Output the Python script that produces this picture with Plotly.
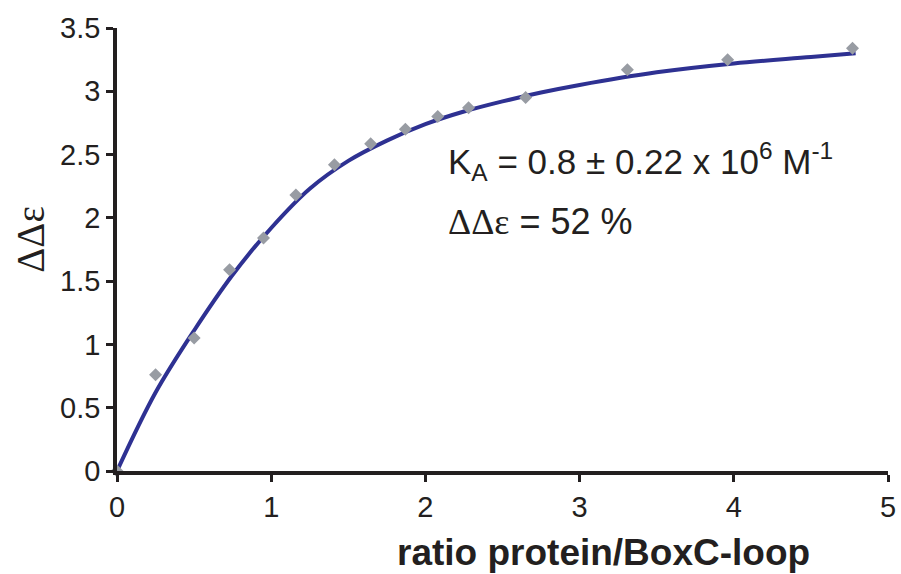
import plotly.graph_objects as go

# Measured data points (grey diamonds)
ratio = [0.0, 0.25, 0.50, 0.73, 0.95, 1.16, 1.41, 1.645, 1.87, 2.08, 2.28, 2.65, 3.31, 3.96, 4.77]
delta_eps = [0.0, 0.76, 1.05, 1.59, 1.84, 2.18, 2.42, 2.585, 2.70, 2.80, 2.87, 2.95, 3.17, 3.25, 3.34]

# Fitted curve
fit_x = [0.0, 0.25, 0.5, 0.75, 1.0, 1.25, 1.5, 1.75, 2.0, 2.25, 2.5, 2.75, 3.0, 3.5, 4.0, 4.5, 4.79]
fit_y = [0.0, 0.62, 1.11, 1.55, 1.92, 2.23, 2.45, 2.61, 2.74, 2.84, 2.92, 2.99, 3.05, 3.15, 3.22, 3.27, 3.30]

x_ticks = [0, 1, 2, 3, 4, 5]
y_ticks = [0, 0.5, 1, 1.5, 2, 2.5, 3, 3.5]
y_tick_labels = ["0", "0.5", "1", "1.5", "2", "2.5", "3", "3.5"]

INK = "#231f20"
SANS = "Liberation Sans, Arial, sans-serif"
SERIF = "Liberation Serif, Times New Roman, serif"

W, H = 901, 574
L, T = 117, 28
R = W - 888
B = H - 471.5
PW = W - L - R
PH = H - T - B


def px(x):
    """window x pixel -> paper coordinate"""
    return (x - L) / PW


def py(y):
    """window y pixel -> paper coordinate"""
    return (H - B - y) / PH


fig = go.Figure()
fig.add_trace(go.Scatter(
    x=fit_x, y=fit_y, mode="lines",
    line=dict(color="#2e3192", width=4, shape="spline", smoothing=1.0),
    showlegend=False, hoverinfo="skip", cliponaxis=False,
))
fig.add_trace(go.Scatter(
    x=ratio, y=delta_eps, mode="markers",
    marker=dict(symbol="diamond", size=10, color="#989ca3"),
    showlegend=False, cliponaxis=False,
))

axis_common = dict(
    showline=True, linecolor=INK, linewidth=3.5,
    ticks="outside", ticklen=7, tickwidth=3, tickcolor=INK,
    showgrid=False, zeroline=False, automargin=False,
    tickfont=dict(size=29, family=SANS, color=INK),
)

fig.update_layout(
    width=W, height=H,
    margin=dict(l=L, r=R, t=T, b=B, autoexpand=False),
    paper_bgcolor="white", plot_bgcolor="white",
    font=dict(family=SANS, color=INK, size=28),
    xaxis=dict(range=[0, 5], tickvals=x_ticks,
               ticktext=[str(v) for v in x_ticks], **axis_common),
    yaxis=dict(range=[0, 3.5], tickvals=y_ticks, ticktext=y_tick_labels,
               **axis_common),
    annotations=[
        dict(text="<b>ratio protein/BoxC-loop</b>", xref="paper", yref="paper",
             x=px(603), y=py(553),
             xanchor="center", yanchor="middle", showarrow=False,
             font=dict(size=37, family=SANS, color=INK)),
        dict(text="ΔΔε", xref="paper", yref="paper",
             x=px(31), y=py(240),
             xanchor="center", yanchor="middle", showarrow=False, textangle=-90,
             font=dict(size=39, family=SERIF, color=INK)),
        dict(text="K<sub>A</sub> = 0.8 ± 0.22 x 10<sup>6</sup> M<sup>-1</sup>",
             xref="paper", yref="paper",
             x=px(446), y=py(162),
             xanchor="left", yanchor="middle", showarrow=False,
             font=dict(size=35, family=SANS, color=INK)),
        dict(text="<span style=\"font-family:'Liberation Serif'\">ΔΔε</span> = 52 %",
             xref="paper", yref="paper",
             x=px(446), y=py(222),
             xanchor="left", yanchor="middle", showarrow=False,
             font=dict(size=36, family=SANS, color=INK)),
    ],
)

fig.write_html(
    "out.html",
    config={"displayModeBar": False},
    post_script="document.body.style.margin='0';document.body.style.overflow='hidden';",
)
